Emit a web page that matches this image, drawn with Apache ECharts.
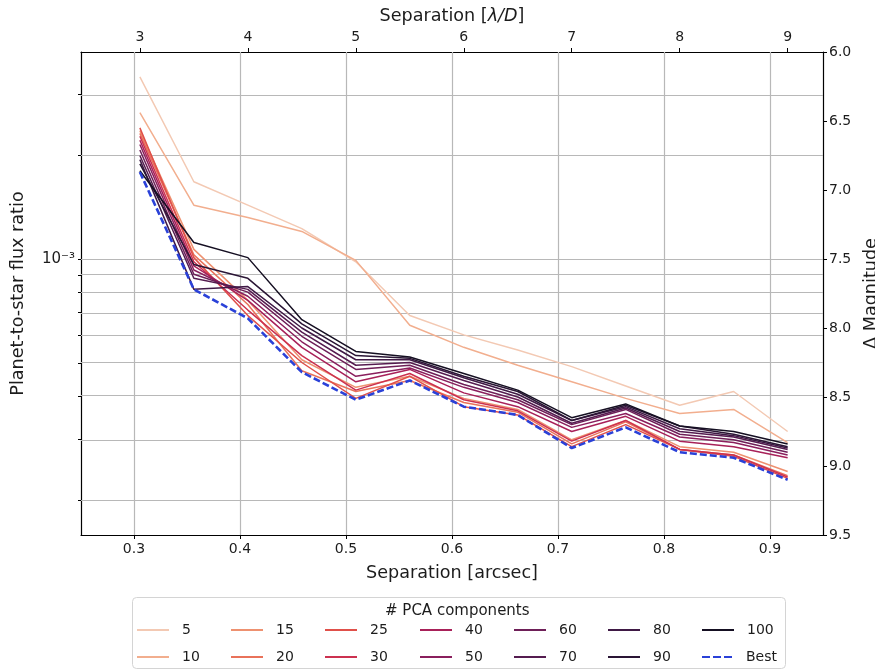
<!DOCTYPE html>
<html><head><meta charset="utf-8">
<script src="https://cdn.jsdelivr.net/npm/echarts@6/dist/echarts.min.js"></script>
<style>html,body{margin:0;padding:0;background:#fff;overflow:hidden}#c{width:875px;height:669px}</style>
</head><body><div id="c"></div>
<script>
// ---- data ----
const sepLD = [3, 3.5, 4, 4.5, 5, 5.5, 6, 6.5, 7, 7.5, 8, 8.5, 9];
const arcsecPerLD = 0.10185;
const nComp = ['5', '10', '15', '20', '25', '30', '40', '50', '60', '70', '80', '90', '100'];
// Delta magnitude per number of PCA components
const dm5   = [6.18, 6.94, 7.11, 7.28, 7.52, 7.91, 8.05, 8.16, 8.28, 8.42, 8.56, 8.46, 8.75];
const dm10  = [6.44, 7.11, 7.20, 7.30, 7.51, 7.98, 8.14, 8.27, 8.39, 8.51, 8.62, 8.59, 8.83];
const dm15  = [6.57, 7.43, 7.80, 8.23, 8.43, 8.35, 8.51, 8.59, 8.81, 8.67, 8.86, 8.90, 9.04];
const dm20  = [6.59, 7.47, 7.83, 8.31, 8.46, 8.38, 8.54, 8.61, 8.84, 8.68, 8.88, 8.92, 9.07];
const dm25  = [6.55, 7.49, 7.91, 8.25, 8.51, 8.35, 8.57, 8.63, 8.86, 8.70, 8.88, 8.93, 9.09];
const dm30  = [6.61, 7.52, 7.87, 8.20, 8.45, 8.33, 8.52, 8.60, 8.82, 8.67, 8.88, 8.92, 9.08];
const dm40  = [6.64, 7.55, 7.80, 8.14, 8.39, 8.30, 8.47, 8.57, 8.75, 8.64, 8.82, 8.86, 8.94];
const dm50  = [6.67, 7.58, 7.77, 8.10, 8.35, 8.29, 8.43, 8.54, 8.72, 8.62, 8.79, 8.83, 8.92];
const dm60  = [6.71, 7.61, 7.74, 8.06, 8.30, 8.27, 8.41, 8.52, 8.70, 8.59, 8.77, 8.81, 8.90];
const dm70  = [6.75, 7.64, 7.72, 8.03, 8.27, 8.25, 8.38, 8.50, 8.69, 8.58, 8.75, 8.79, 8.88];
const dm80  = [6.78, 7.72, 7.70, 8.00, 8.23, 8.23, 8.36, 8.48, 8.67, 8.57, 8.73, 8.78, 8.87];
const dm90  = [6.81, 7.54, 7.64, 7.97, 8.20, 8.22, 8.35, 8.46, 8.67, 8.56, 8.71, 8.77, 8.86];
const dm100 = [6.86, 7.38, 7.49, 7.94, 8.17, 8.21, 8.33, 8.45, 8.65, 8.55, 8.71, 8.75, 8.84];
const dmBest = [6.87, 7.72, 7.93, 8.32, 8.52, 8.38, 8.57, 8.63, 8.87, 8.72, 8.90, 8.94, 9.10];
const allDm = [dm5, dm10, dm15, dm20, dm25, dm30, dm40, dm50, dm60, dm70, dm80, dm90, dm100];
// ticks
const arcsecTicks = [0.3, 0.4, 0.5, 0.6, 0.7, 0.8, 0.9];
const ldTicks = [3, 4, 5, 6, 7, 8, 9];
const fluxGrid = [2e-4, 3e-4, 4e-4, 5e-4, 6e-4, 7e-4, 8e-4, 9e-4, 1e-3, 2e-3, 3e-3];
const fluxLabelVal = 1e-3;
const legendRow1 = ['5', '15', '25', '40', '60', '80', '100'];
const legendRow2 = ['10', '20', '30', '50', '70', '90', 'Best'];

// ---- styles ----
const colors = ['#f3c9b3', '#f2ae8e', '#ee9170', '#e9725a', '#e0504a', '#cc3150',
  '#a82159', '#8a1f5d', '#6e1f58', '#551c50', '#3f1945', '#2a1535', '#150f22'];
const bestColor = '#2a41d8';
const FONT = 'DejaVu Sans';
const TXT = '#1c1c1c';
const xMinArc = 0.25, xMaxArc = 0.95;
const toMag = r => -2.5 * Math.log10(r);
const lineIcon = 'rect';
const dashIcon = 'path://M0,0h8v2h-8zM11,0h8v2h-8zM22,0h8v2h-8z';

const chart = echarts.init(document.getElementById('c'), null, {renderer: 'canvas'});

const series = [];
series.push({
  name: '_grid', type: 'line', xAxisIndex: 0, yAxisIndex: 0, data: [], z: 1, silent: true,
  markLine: {
    silent: true, symbol: 'none', z: 1, animation: false,
    label: {show: false},
    lineStyle: {color: '#b8b8b8', width: 1.2, type: 'solid'},
    data: arcsecTicks.map(v => ({xAxis: v})).concat(fluxGrid.map(r => ({yAxis: toMag(r)})))
  }
});
nComp.forEach((n, i) => {
  series.push({
    name: n, type: 'line', xAxisIndex: 1, yAxisIndex: 1, z: 3,
    data: sepLD.map((x, j) => [x, allDm[i][j]]),
    symbol: 'none', color: colors[i],
    lineStyle: {width: 1.5, color: colors[i]},
    animation: false
  });
});
series.push({
  name: 'Best', type: 'line', xAxisIndex: 1, yAxisIndex: 1, z: 4,
  data: sepLD.map((x, j) => [x, dmBest[j]]),
  symbol: 'none', color: bestColor,
  lineStyle: {width: 2.6, color: bestColor, type: [7, 3]},
  animation: false
});

// one legend per entry, laid out as a 7 x 2 grid (column-major like the original)
const legX0 = 132, legPitch = 94.2, legRowTops = [618, 645];
const legends = [];
[legendRow1, legendRow2].forEach((row, r) => {
  row.forEach((n, c) => {
    legends.push({
      left: Math.round(legX0 + c * legPitch), top: legRowTops[r],
      itemWidth: 32, itemHeight: 2, selectedMode: false,
      data: [{name: n, icon: n === 'Best' ? dashIcon : lineIcon}],
      textStyle: {fontFamily: FONT, fontSize: 14, color: TXT, padding: [0, 0, 0, 8]}
    });
  });
});

chart.setOption({
  backgroundColor: '#fff',
  animation: false,
  grid: {left: 81, right: 52, top: 52, bottom: 134, outerBoundsMode: 'none', containLabel: false},
  xAxis: [
    {
      type: 'value', position: 'bottom', min: xMinArc, max: xMaxArc,
      name: 'Separation [arcsec]', nameLocation: 'middle', nameGap: 29,
      nameTextStyle: {fontFamily: FONT, fontSize: 17.6, color: TXT},
      axisLine: {lineStyle: {color: '#000', width: 1.2}},
      axisTick: {customValues: arcsecTicks, length: 4, lineStyle: {color: '#000'}},
      axisLabel: {customValues: arcsecTicks, fontFamily: FONT, fontSize: 14, color: TXT, margin: 7,
        formatter: v => v.toFixed(1)},
      splitLine: {show: false}
    },
    {
      type: 'value', position: 'top', min: xMinArc / arcsecPerLD, max: xMaxArc / arcsecPerLD,
      name: '{n|Separation [}{i|λ/D}{n|]}', nameLocation: 'middle', nameGap: 24,
      nameTextStyle: {fontFamily: FONT, fontSize: 17.6, color: TXT,
        rich: {n: {fontFamily: FONT, fontSize: 17.6, color: TXT},
               i: {fontFamily: FONT, fontSize: 17.6, color: TXT, fontStyle: 'italic'}}},
      axisLine: {lineStyle: {color: '#000', width: 1.2}},
      axisTick: {customValues: ldTicks, length: 4, lineStyle: {color: '#000'}},
      axisLabel: {customValues: ldTicks, fontFamily: FONT, fontSize: 14, color: TXT, margin: 8,
        formatter: v => String(Math.round(v))},
      splitLine: {show: false}
    }
  ],
  yAxis: [
    {
      type: 'value', position: 'left', min: 6, max: 9.5, inverse: true,
      name: 'Planet-to-star flux ratio', nameLocation: 'middle', nameGap: 54, nameRotate: 90,
      nameTextStyle: {fontFamily: FONT, fontSize: 17.6, color: TXT},
      axisLine: {show: true, lineStyle: {color: '#000', width: 1.2}},
      axisTick: {customValues: fluxGrid.map(toMag), length: 3, lineStyle: {color: '#000'}},
      axisLabel: {customValues: [toMag(fluxLabelVal)], fontFamily: FONT, fontSize: 15, color: TXT, margin: 6,
        formatter: () => '10⁻³'},
      splitLine: {show: false}
    },
    {
      type: 'value', position: 'right', min: 6, max: 9.5, interval: 0.5, inverse: true,
      name: 'Δ Magnitude', nameLocation: 'middle', nameGap: 33, nameRotate: 90,
      nameTextStyle: {fontFamily: FONT, fontSize: 17.6, color: TXT},
      axisLine: {show: true, lineStyle: {color: '#000', width: 1.2}},
      axisTick: {length: 4, lineStyle: {color: '#000'}},
      axisLabel: {fontFamily: FONT, fontSize: 14, color: TXT, margin: 6, formatter: v => v.toFixed(1)},
      splitLine: {show: false}
    }
  ],
  legend: legends,
  graphic: [
    {type: 'rect', left: 132, top: 597, shape: {width: 653, height: 71, r: 4},
      style: {fill: '#fff', stroke: '#d4d4d4', lineWidth: 1}, z: -1, silent: true},
    {type: 'text', left: 385, top: 604, style: {text: '# PCA components', fontFamily: FONT, fontSize: 15, fill: TXT},
      silent: true}
  ],
  series: series
});
</script></body></html>
